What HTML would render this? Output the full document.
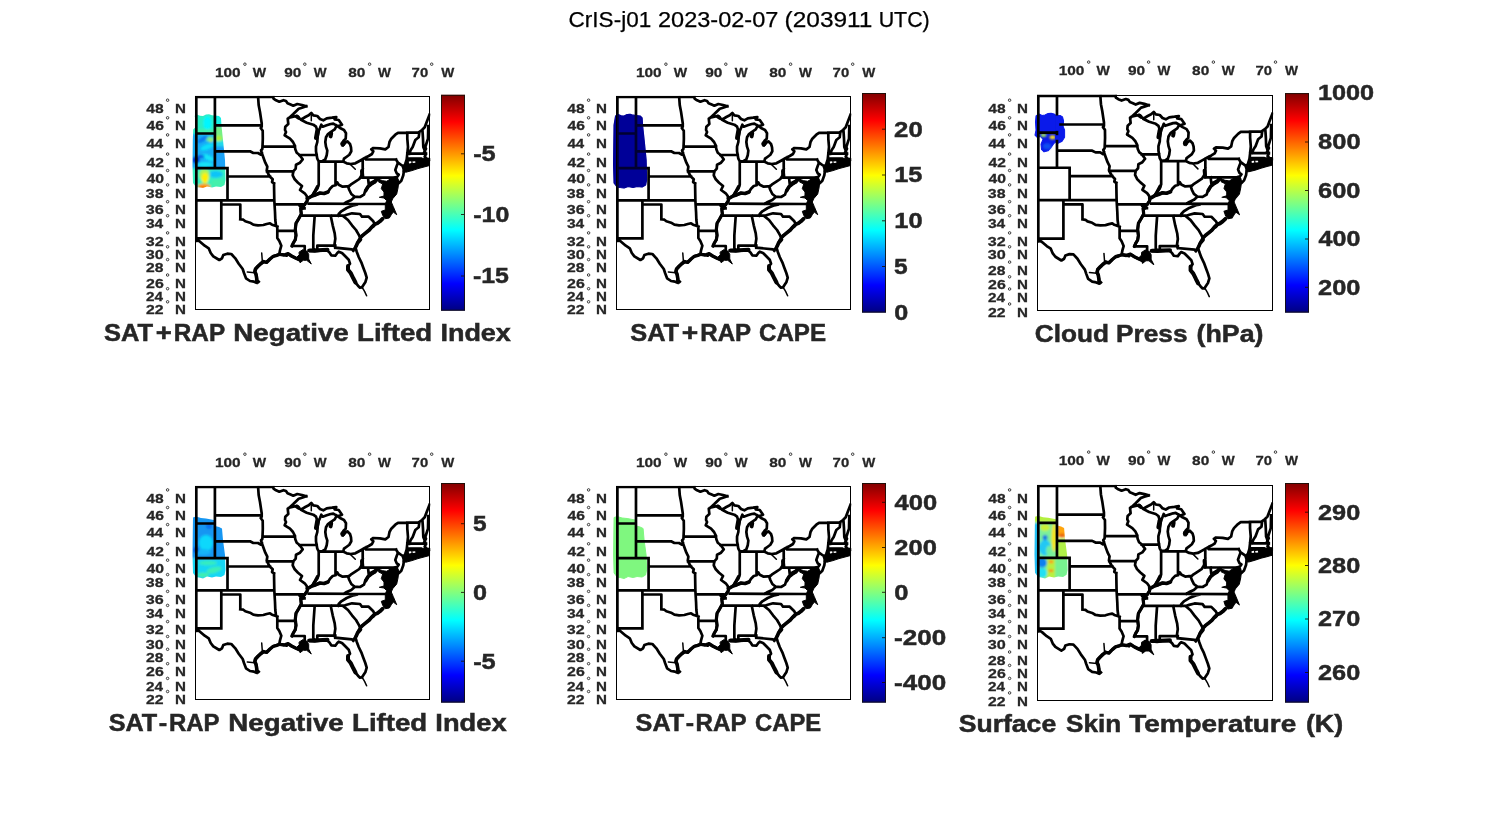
<!DOCTYPE html>
<html><head><meta charset="utf-8"><title>CrIS-j01 2023-02-07</title>
<style>html,body{margin:0;padding:0;background:#fff;overflow:hidden}svg{display:block;opacity:0.999}text{font-family:"Liberation Sans",sans-serif;white-space:pre}</style>
</head><body>
<svg width="1500" height="825" viewBox="0 0 1500 825">
<defs>
<linearGradient id="jet" x1="0" y1="0" x2="0" y2="1"><stop offset="0" stop-color="#800000"/><stop offset="0.125" stop-color="#ff0000"/><stop offset="0.375" stop-color="#ffff00"/><stop offset="0.5" stop-color="#80ff80"/><stop offset="0.625" stop-color="#00ffff"/><stop offset="0.875" stop-color="#0000ff"/><stop offset="1" stop-color="#000080"/></linearGradient>
<filter id="bl" x="-10%" y="-10%" width="120%" height="120%"><feGaussianBlur stdDeviation="0.9"/></filter>
<g id="map" fill="none" stroke="#000" stroke-linejoin="round" stroke-linecap="round">
<path d="M196.3 97 L273.3 97 M273.3 97 L273.5 98.7 L276 100.3 L279.3 101.7 L283.5 100.2 L286 101 L287.5 103.2 L290 104.2 L293.3 105.7 L297.3 104 L302 105 L306.3 106.3 M306.3 106.3 L302 107.7 L298.7 108.7 L293.3 114 L289.3 117.7 M196.3 97 L196.3 241 M214.9 97 L214.9 168.2 M214.9 125.4 L261.5 125.4 M196.3 133.5 L214.9 133.5 M258.1 97 L258.7 105.3 L260 112 L261 118.7 L261.7 123.3 L261.7 126.7 L260.7 128 L262.7 130.7 L262.8 138.7 L262.5 146.7 L262.3 149 L261 150.5 L261.7 152.7 M262.5 146.7 L295 146.7 M214.9 151.3 L250 151.3 L253.3 153 L258 153 L260.7 154.7 L261.7 152.7 M261.7 152.7 L263.3 157.3 L265.3 162.7 L267.3 166.7 L266.7 170.7 L268.3 174 L270 176.7 L272.7 179.3 L272 182 L274 183.3 M196.3 168.2 L227.5 168.2 M227.5 168.2 L227.5 200.3 M227.5 176.5 L270 176.5 M267 171.3 L293.3 171.3 M274 183.3 L274.3 200.3 L275 212 L275.3 220 L276 225.5 M196.3 200.3 L274.3 200.3 M274.7 204.4 L303 204.4 L302 208.3 L304.5 208.3 M221.3 200.3 L221.3 238.3 M221.3 204.5 L240.3 204.5 L240.3 219.3 M240.3 219.3 L243.3 219.7 L245.3 221.3 L250 222.7 L253.3 224.7 L258 225.3 L263.3 225 L266.7 224 L270 223.3 L272 224.7 L276 226 L277.3 226.7 M277.3 226.7 L277.3 238 L279.3 241 L281.3 245.7 L280 250.3 L279.3 254.3 M277.3 230.8 L295.3 230.8 M196.3 238.3 L221.3 238.3 M196.7 239.7 L200 241.7 L204.7 245.7 L208.7 248.3 L210.7 253 L213.3 256.3 L219.3 260 L222 258.3 L223.3 255 L227.3 253.7 L231.3 254 L235.3 258.3 L238.7 263.7 L242.7 269 L244 273 L246 278.3 L250 281 L254 281.7 L257.3 283 L258.7 281.7 M257.3 282.3 L256.7 278.3 L256 274.3 L254.7 271.7 L255.3 269 L258 266.3 L260.7 263.7 L263.3 261.7 L266.7 262.3 L270 259 L273.3 256.3 L276.7 255.3 L279.3 254.3 L283.3 254.7 L286.7 255.7 L288 253.7 L292 256.3 L296 258.3 L299.3 259.7 M289.3 117.7 L287.7 118.7 L288.3 124 L285.3 126.7 L285 130 L286 132 L284.7 135.3 L290 138.7 L293 142 L294.7 145.3 L295.3 149.3 L296.7 152.7 L299.3 154.7 L302.7 159.3 L300 162.7 L296 164.7 L295.7 168.7 L293.3 171.3 L292.7 175.3 L294.7 179.3 L298 182.7 L302 186 L300 190 L304.7 193.3 L306.7 196 L307.3 200.7 L304.7 204.7 L300.7 208.7 L301.3 214 L298.7 218.7 L296 223.3 L295.3 229.3 L296 235.3 L295.3 239.7 L293.3 243 L292 246 M292 246 L304.7 246 L304.7 250 M299.3 155 L316.7 155 M318 133.3 L317.6 137 L317.3 142 L316 146.7 L316 151.3 L316.7 155.3 L317.3 158.7 L318.7 161.3 L322.7 161 L325.3 159.3 L326.7 155.3 L327.3 150.7 L326 146.7 L325.3 142 L326 137.3 L328 134 L330.7 132 L334.7 129.3 L336.7 125.7 M318.7 161.7 L318.7 184.7 L317.3 188.7 L314.7 192 L312.7 195.3 M319 161.7 L343.3 161.7 M335.5 161.7 L335.5 185 M307.3 198.7 L312 196 L316 194.7 L320 193 L324 193.5 L328 192 L330 188.7 L332.7 186 L335.5 185.3 L337.3 182.5 L338.7 184.7 L342.7 186.7 L346.7 186.3 L348.5 186.8 L350.7 184.7 L355.3 181.7 L359.3 179 L361.5 175.5 L362.2 171.3 L362.7 169 M348 186.3 L349.3 190 L351.3 194 L354.7 196.7 M354.7 196.7 L360 197 L364 194.7 L365.3 190.7 L368 186.7 L371.3 184 L374.7 182 L377.3 178.7 M354.7 197 L351.3 200 L346.7 202 L344 203.7 M308.7 203.7 L386.7 204 M356.7 204.7 L353.3 205.3 L346.7 208 L341.3 211.3 L338.7 214 L338 215.7 M301.3 215.7 L344 215.7 M314.7 215.7 L314 225.3 L313.3 235.3 L313.3 248 L314.5 250.5 M330.7 215.7 L332.7 225.3 L334.7 233.3 L335.3 238.7 L334.3 245.7 L335.3 247.7 M317.3 250.7 L317.3 245.7 L335.3 245.7 M335.3 247.7 L352 249.3 L353.3 251 L354 249 L355.3 247 M344 215.7 L346.7 214.7 L352 213.3 L360 214 L362 216.7 L368.7 216.7 L373.3 221.3 L374.7 224 M344 216.7 L348 220 L352 225.3 L356 230 L358.7 234.7 L360 237.3 M382.7 218.7 L380 221.3 L377.3 223.3 L374.7 224.3 L372 226.7 L369.3 230 L366 232.7 L362.7 235.3 L360 238 L358 241.3 L356.7 245.3 L355.3 247 L356.7 251.7 L358.7 257 L361.3 262.3 L363.3 267.7 L365.3 273 L366.7 277.7 L365.3 282.3 L363.3 285.3 L362 287.3 M308.7 250.7 L314.7 251.3 L320 250.7 L326.7 250.3 L329.3 252.3 L331.3 255.3 L335.3 255.7 L337.3 253 L338.7 251.7 L342 253 L345.3 256.3 L348.7 259.7 L350 263.7 L348 266.3 L348 269.7 L350.7 273 L353.3 278.3 L355.3 282.3 L358 285.7 L360 287.7 L362 287.3 M362.7 159.5 L362.7 177.7 M362.7 177.7 L393.3 177.7 M366.5 157.5 L366 159.5 L396 159.5 M396 159.5 L398 162.7 L396.7 166 L395.3 170 L396.7 173.3 L398.7 174.7 L397.3 176.7 L393.3 178 M343.3 161.7 L346.7 163.3 L350.7 164 L355.3 163.3 L360 160.7 L364.7 158 L368.7 156 L372 154 L373.3 151.3 L371.3 149.3 L373.3 148 L380 148.3 L385.3 149.3 L388.5 147 L389.5 142 L391.3 138.7 L395.3 134.7 L398 132.8 L418.7 132.3 M336.7 125.7 L340 128 L344 130 L346 133.3 L345.7 138.7 L343.5 140.7 L342.3 143.5 L344.7 143 L347.3 141.3 L350 144 L351 147.3 L351.3 151.3 L349.3 154.7 L346.7 156.7 L344 158.7 L343.3 161.3 M289.3 117.7 L293.3 116.7 L297.3 116 L299 118.5 L301.3 119.3 M301.3 119.3 L305.3 117 L308.7 115.3 L311.3 113 L313.3 115.3 L317.3 116 L320 119 L323.3 120.3 L326.7 118.3 L332 117.7 L336.3 117 L334.7 119.3 L338.7 120 L342 124.7 L338.7 126 L336.7 125.7 M301.3 120 L306.7 122.7 L313.3 124.7 L316 126.7 L317.3 130.7 L318 133.3 M336.7 125.7 L333.3 123.7 L330.7 124 L326.7 125.3 L322.7 126.7 L321.3 124.7 L320 128 L318.7 131 L318 133.3 M407.3 132.5 L407.3 138.7 L408 147 L407.3 154 L406.7 159.3 L405.3 164 L403.3 166.7 M419.3 132.7 L418.7 137.3 L415.3 140 L412.7 147 L410.7 150 L409.3 153.7 M418.7 132.3 L422 130 L424.7 127.3 L426.7 122 L429.5 114.7 M422.5 131 L423 138.7 L423.3 147 L424 148.7 L425.3 152.7 M428.3 126 L428 138.7 L425.3 147 L426 148.7 L424 152.7 L426 154 L424.7 156.7 L426.7 158.7 L429.3 159.3 M407.3 153.7 L426 153.7 M407.3 158.7 L421.3 158.7 L421.3 162 M404.3 165.6 L408 163.4 L413 162.3 L418 161.6 L421.3 161.4 L425 160.6 L429.5 159.8 M398 162.7 L402.7 166 M402.7 166 L404 170 L403.3 175.3 L401.3 180.7 L398.7 183.3 L397.3 180.7 L396.7 178 M368 177.7 L368.7 184 L374.7 180.7 L377.3 178.7" stroke-width="2.7" stroke-linecap="square"/>
<path d="M247.3 272 L254.5 272.7 M261.7 253 L262.3 260.8 M362 287.3 L363.4 289.4 L364.7 291.6 L366.6 295.8 M350.7 164.7 L355.3 169.3 M311.3 115.3 L311.3 120.7" stroke-width="1.5"/>
<path d="M377.3 178.7 L382.7 180.7 L386.7 181.3 L390.7 178.7 L394.7 176.7 L398 178.7 L398.7 182.7 L398 188 L396.7 194 L392.7 198.7 L391.3 202 L393.3 206.7 L396.7 214.7 L393.3 212 L391.3 214.7 L389.3 218 L385.3 218.7 L382.7 215.3 L381.3 211.3 L385.3 210 L385.3 204 L386.7 200.7 L384 198 L379.3 197.3 L384 196 L384 192 L381.3 188.7 L382.7 184 L378.7 182Z M299.3 252 L302.7 249.7 L306.7 251 L308.7 254.3 L308.7 259 L311.3 264 L306.7 260.3 L303.3 260.3 L300 262.7 L299.3 259.7 L296 258 L299 255Z M404 166.5 L405.6 162 L407.5 158.4 L429.6 158.4 L429.6 165.5 L424 167 L418 168.6 L412 170.6 L406 172.2 L403.2 171.6Z M341.3 142.2 L343 141 L344.6 142.4 L345.2 144.4 L343.6 146.4 L341.6 146.2 L340.8 144.2Z" fill="#000" stroke-width="1.0"/>
<path d="M408.8 161.6 L411.2 161.2 L411.4 163 L409 163.4Z M412.4 161.4 L415.2 161.2 L415.4 162.8 L412.8 163Z" fill="#fff" stroke="none"/>
<path d="M348 266 L348 269.7 L350.7 273 L353.3 278.3 L355.5 282.5" stroke-width="4.0"/>
<path d="M360.5 239.5 L357.5 243 L356 246.5" stroke-width="3.6"/>
<path d="M374 225 L371.5 227.3 L369.3 230 L366 232.7 L362.7 235.3 L360.5 237.6" stroke-width="3.6"/>
<path d="M300 205.5 L302.5 208" stroke-width="3.8"/>
<path d="M309.5 250.4 L318 250.2 L327.5 249.8" stroke-width="4.0"/>
<path d="M263.3 261.7 L266.7 262.3 L270 259 L273.3 256.3 L276.7 255.3 L279.3 254.3" stroke-width="3.4"/>
<path d="M256.8 282 L256.7 278.3 L256 274.3 L254.9 271.7 L255.5 269 L258 266.3 L260.7 263.7 L263.3 261.7" stroke-width="3.6"/>
<path d="M307.3 198.7 L312 196 L316 194.7 L320 193 L324 193.5 L328 192" stroke-width="3.6"/>
<path d="M307.3 200.7 L304.7 204.7 L300.7 208.7 L301.3 214 L298.7 218.7 L296 223.3 L295.3 229.3 L296 235.3 L295.3 239.7 L293.3 243 L292 246" stroke-width="3.2"/>
<path d="M280 254.3 L284 255 L288 253.7 L292 256.3 L296 258.3 L299.3 259.7" stroke-width="3.4"/>
<path d="M317.6 131 L316.4 137.6" stroke-width="4.8"/>
<path d="M331.2 133.2 L330.6 136.4" stroke-width="4.0"/>
<path d="M296.6 116.4 L298.4 117.6" stroke-width="3.8"/>
<path d="M317.6 186.5 L314.7 192 L312.7 195.3" stroke-width="3.4"/>
<path d="M361.9 171 L362.5 177" stroke-width="3.8"/>
<path d="M382.7 218.7 L380 221.3 L377.3 223.3 L374.7 224.3 L372.7 226.5" stroke-width="3.8"/>
<path d="M365.6 190.7 L368 186.7 L371.3 184 L374.7 182 L377.3 178.9" stroke-width="3.6"/>
</g>
<g id="lon">
<text x="214.90" y="76.8" font-size="12.6" font-weight="bold" fill="#262626" stroke="#262626" stroke-width="0.26" textLength="25.75" lengthAdjust="spacingAndGlyphs">100</text>
<text x="252.72" y="76.8" font-size="12.6" font-weight="bold" fill="#262626" stroke="#262626" stroke-width="0.26" textLength="13.36" lengthAdjust="spacingAndGlyphs">W</text>
<circle cx="244.9" cy="64.2" r="1.25" fill="none" stroke="#262626" stroke-width="0.9"/>
<text x="284.15" y="76.8" font-size="12.6" font-weight="bold" fill="#262626" stroke="#262626" stroke-width="0.26" textLength="17.17" lengthAdjust="spacingAndGlyphs">90</text>
<text x="313.80" y="76.8" font-size="12.6" font-weight="bold" fill="#262626" stroke="#262626" stroke-width="0.26" textLength="12.83" lengthAdjust="spacingAndGlyphs">W</text>
<circle cx="304.8" cy="64.2" r="1.25" fill="none" stroke="#262626" stroke-width="0.9"/>
<text x="348.25" y="76.8" font-size="12.6" font-weight="bold" fill="#262626" stroke="#262626" stroke-width="0.26" textLength="17.19" lengthAdjust="spacingAndGlyphs">80</text>
<text x="377.90" y="76.8" font-size="12.6" font-weight="bold" fill="#262626" stroke="#262626" stroke-width="0.26" textLength="12.93" lengthAdjust="spacingAndGlyphs">W</text>
<circle cx="369.6" cy="64.2" r="1.25" fill="none" stroke="#262626" stroke-width="0.9"/>
<text x="411.63" y="76.8" font-size="12.6" font-weight="bold" fill="#262626" stroke="#262626" stroke-width="0.26" textLength="16.56" lengthAdjust="spacingAndGlyphs">70</text>
<text x="441.16" y="76.8" font-size="12.6" font-weight="bold" fill="#262626" stroke="#262626" stroke-width="0.26" textLength="12.99" lengthAdjust="spacingAndGlyphs">W</text>
<circle cx="431.7" cy="64.2" r="1.25" fill="none" stroke="#262626" stroke-width="0.9"/>
</g>
</defs>
<rect width="1500" height="825" fill="#fff"/>
<text x="568.62" y="26.9" font-size="21.5" fill="#000" stroke="#000" stroke-width="0.25" textLength="82.57" lengthAdjust="spacingAndGlyphs">CrIS-j01</text>
<text x="658.00" y="26.9" font-size="21.5" fill="#000" stroke="#000" stroke-width="0.25" textLength="120.29" lengthAdjust="spacingAndGlyphs">2023-02-07</text>
<text x="784.63" y="26.9" font-size="21.5" fill="#000" stroke="#000" stroke-width="0.25" textLength="87.82" lengthAdjust="spacingAndGlyphs">(203911</text>
<text x="878.64" y="26.9" font-size="21.5" fill="#000" stroke="#000" stroke-width="0.25" textLength="51.14" lengthAdjust="spacingAndGlyphs">UTC)</text>
<g>
<text x="146.32" y="112.8" font-size="12.3" font-weight="bold" fill="#262626" stroke="#262626" stroke-width="0.26" textLength="17.37" lengthAdjust="spacingAndGlyphs">48</text>
<text x="174.99" y="112.8" font-size="12.3" font-weight="bold" fill="#262626" stroke="#262626" stroke-width="0.26" textLength="10.96" lengthAdjust="spacingAndGlyphs">N</text>
<circle cx="167.6" cy="100.2" r="1.25" fill="none" stroke="#262626" stroke-width="0.9"/>
<text x="146.48" y="130.4" font-size="12.3" font-weight="bold" fill="#262626" stroke="#262626" stroke-width="0.26" textLength="17.47" lengthAdjust="spacingAndGlyphs">46</text>
<text x="174.99" y="130.4" font-size="12.3" font-weight="bold" fill="#262626" stroke="#262626" stroke-width="0.26" textLength="10.96" lengthAdjust="spacingAndGlyphs">N</text>
<circle cx="167.6" cy="117.8" r="1.25" fill="none" stroke="#262626" stroke-width="0.9"/>
<text x="146.47" y="147.5" font-size="12.3" font-weight="bold" fill="#262626" stroke="#262626" stroke-width="0.26" textLength="16.77" lengthAdjust="spacingAndGlyphs">44</text>
<text x="174.99" y="147.5" font-size="12.3" font-weight="bold" fill="#262626" stroke="#262626" stroke-width="0.26" textLength="10.96" lengthAdjust="spacingAndGlyphs">N</text>
<circle cx="167.6" cy="134.9" r="1.25" fill="none" stroke="#262626" stroke-width="0.9"/>
<text x="146.47" y="166.7" font-size="12.3" font-weight="bold" fill="#262626" stroke="#262626" stroke-width="0.26" textLength="17.35" lengthAdjust="spacingAndGlyphs">42</text>
<text x="174.99" y="166.7" font-size="12.3" font-weight="bold" fill="#262626" stroke="#262626" stroke-width="0.26" textLength="10.96" lengthAdjust="spacingAndGlyphs">N</text>
<circle cx="167.6" cy="154.1" r="1.25" fill="none" stroke="#262626" stroke-width="0.9"/>
<text x="146.47" y="183.1" font-size="12.3" font-weight="bold" fill="#262626" stroke="#262626" stroke-width="0.26" textLength="17.54" lengthAdjust="spacingAndGlyphs">40</text>
<text x="174.99" y="183.1" font-size="12.3" font-weight="bold" fill="#262626" stroke="#262626" stroke-width="0.26" textLength="10.96" lengthAdjust="spacingAndGlyphs">N</text>
<circle cx="167.6" cy="170.5" r="1.25" fill="none" stroke="#262626" stroke-width="0.9"/>
<text x="145.86" y="197.5" font-size="12.3" font-weight="bold" fill="#262626" stroke="#262626" stroke-width="0.26" textLength="17.77" lengthAdjust="spacingAndGlyphs">38</text>
<text x="174.99" y="197.5" font-size="12.3" font-weight="bold" fill="#262626" stroke="#262626" stroke-width="0.26" textLength="10.96" lengthAdjust="spacingAndGlyphs">N</text>
<circle cx="167.6" cy="184.9" r="1.25" fill="none" stroke="#262626" stroke-width="0.9"/>
<text x="145.82" y="214.3" font-size="12.3" font-weight="bold" fill="#262626" stroke="#262626" stroke-width="0.26" textLength="17.94" lengthAdjust="spacingAndGlyphs">36</text>
<text x="174.99" y="214.3" font-size="12.3" font-weight="bold" fill="#262626" stroke="#262626" stroke-width="0.26" textLength="10.96" lengthAdjust="spacingAndGlyphs">N</text>
<circle cx="167.6" cy="201.7" r="1.25" fill="none" stroke="#262626" stroke-width="0.9"/>
<text x="145.90" y="228.3" font-size="12.3" font-weight="bold" fill="#262626" stroke="#262626" stroke-width="0.26" textLength="17.30" lengthAdjust="spacingAndGlyphs">34</text>
<text x="174.99" y="228.3" font-size="12.3" font-weight="bold" fill="#262626" stroke="#262626" stroke-width="0.26" textLength="10.96" lengthAdjust="spacingAndGlyphs">N</text>
<circle cx="167.6" cy="215.7" r="1.25" fill="none" stroke="#262626" stroke-width="0.9"/>
<text x="145.82" y="245.5" font-size="12.3" font-weight="bold" fill="#262626" stroke="#262626" stroke-width="0.26" textLength="17.91" lengthAdjust="spacingAndGlyphs">32</text>
<text x="174.99" y="245.5" font-size="12.3" font-weight="bold" fill="#262626" stroke="#262626" stroke-width="0.26" textLength="10.96" lengthAdjust="spacingAndGlyphs">N</text>
<circle cx="167.6" cy="232.9" r="1.25" fill="none" stroke="#262626" stroke-width="0.9"/>
<text x="145.82" y="259.4" font-size="12.3" font-weight="bold" fill="#262626" stroke="#262626" stroke-width="0.26" textLength="18.03" lengthAdjust="spacingAndGlyphs">30</text>
<text x="174.99" y="259.4" font-size="12.3" font-weight="bold" fill="#262626" stroke="#262626" stroke-width="0.26" textLength="10.96" lengthAdjust="spacingAndGlyphs">N</text>
<circle cx="167.6" cy="246.8" r="1.25" fill="none" stroke="#262626" stroke-width="0.9"/>
<text x="146.05" y="272.2" font-size="12.3" font-weight="bold" fill="#262626" stroke="#262626" stroke-width="0.26" textLength="17.45" lengthAdjust="spacingAndGlyphs">28</text>
<text x="174.99" y="272.2" font-size="12.3" font-weight="bold" fill="#262626" stroke="#262626" stroke-width="0.26" textLength="10.96" lengthAdjust="spacingAndGlyphs">N</text>
<circle cx="167.6" cy="259.6" r="1.25" fill="none" stroke="#262626" stroke-width="0.9"/>
<text x="146.05" y="287.6" font-size="12.3" font-weight="bold" fill="#262626" stroke="#262626" stroke-width="0.26" textLength="17.74" lengthAdjust="spacingAndGlyphs">26</text>
<text x="174.99" y="287.6" font-size="12.3" font-weight="bold" fill="#262626" stroke="#262626" stroke-width="0.26" textLength="10.96" lengthAdjust="spacingAndGlyphs">N</text>
<circle cx="167.6" cy="275" r="1.25" fill="none" stroke="#262626" stroke-width="0.9"/>
<text x="146.10" y="301.3" font-size="12.3" font-weight="bold" fill="#262626" stroke="#262626" stroke-width="0.26" textLength="16.97" lengthAdjust="spacingAndGlyphs">24</text>
<text x="174.99" y="301.3" font-size="12.3" font-weight="bold" fill="#262626" stroke="#262626" stroke-width="0.26" textLength="10.96" lengthAdjust="spacingAndGlyphs">N</text>
<circle cx="167.6" cy="288.7" r="1.25" fill="none" stroke="#262626" stroke-width="0.9"/>
<text x="146.05" y="314.4" font-size="12.3" font-weight="bold" fill="#262626" stroke="#262626" stroke-width="0.26" textLength="17.57" lengthAdjust="spacingAndGlyphs">22</text>
<text x="174.99" y="314.4" font-size="12.3" font-weight="bold" fill="#262626" stroke="#262626" stroke-width="0.26" textLength="10.96" lengthAdjust="spacingAndGlyphs">N</text>
<circle cx="167.6" cy="301.8" r="1.25" fill="none" stroke="#262626" stroke-width="0.9"/>
<use href="#lon" x="0" y="0"/>
<clipPath id="bx1"><rect x="194.6" y="95.7" width="235.7" height="214.4"/></clipPath>
<g transform="translate(195.1 96.4) scale(1.00000 1.00000) translate(-195.1 -96.4)"><clipPath id="c1"><path d="M194.5 116 L197 114.5 L200 115.8 L203 116 L206 114.6 L209 114.3 L212 115.2 L215 115.5 L219 116 L221 118 L221.5 126 L223 140 L225 160 L225.5 180 L224.5 185 L221 187 L216 186.5 L212 187.5 L207 186.5 L203 188 L199 187.5 L196 187 L193 183 L192.5 165 L192.8 140 L193.2 129.5 L195.2 127.5 L195.2 117Z"/></clipPath>
<g clip-path="url(#c1)"><g filter="url(#bl)">
<rect x="188" y="110" width="44" height="84" fill="#2ceec4"/>
<ellipse cx="207.5" cy="123" rx="4.2" ry="7" fill="#04f6ff"/>
<rect x="196" y="129.5" width="19" height="3.5" fill="#44f0a4"/>
<rect x="215" y="112" width="12" height="13.5" fill="#14f0e4"/>
<rect x="215" y="126.5" width="12" height="14" fill="#74f084"/>
<ellipse cx="218.5" cy="138.5" rx="2.8" ry="3" fill="#b4f230"/>
<rect x="215" y="142" width="12" height="27" fill="#1aa2f6"/>
<rect x="215" y="141.5" width="12" height="5" fill="#22d8ec"/>
<rect x="188" y="134" width="27" height="34.5" fill="#12acf6"/>
<ellipse cx="210" cy="139" rx="4" ry="2.6" fill="#6cf094"/>
<ellipse cx="211" cy="140.5" rx="1.8" ry="1.4" fill="#b0f040"/>
<ellipse cx="202.5" cy="139.5" rx="6" ry="2" fill="#0c78ee" transform="rotate(-32 202.5 139.5)"/>
<ellipse cx="207" cy="147" rx="7" ry="2.6" fill="#10e0fa" transform="rotate(-20 207 147)"/>
<ellipse cx="208" cy="157.5" rx="6.5" ry="2.6" fill="#12e6f8" transform="rotate(25 208 157.5)"/>
<ellipse cx="205" cy="164.5" rx="8" ry="2.4" fill="#18e4f4"/>
<ellipse cx="196" cy="160" rx="3.6" ry="3.4" fill="#0420cc"/>
<ellipse cx="201" cy="156.5" rx="3.5" ry="1.3" fill="#0a48dc"/>
<rect x="188" y="168.6" width="44" height="24" fill="#34f0c0"/>
<ellipse cx="215.5" cy="174.3" rx="7.5" ry="3.6" fill="#10c4f8"/>
<ellipse cx="218" cy="183" rx="8" ry="4" fill="#44f0ac"/>
<ellipse cx="204.5" cy="175" rx="5.2" ry="6.5" fill="#a8f458"/>
<ellipse cx="205" cy="178.2" rx="3.5" ry="5.4" fill="#fff000"/>
<ellipse cx="204" cy="186.6" rx="6.6" ry="2.8" fill="#ff9a08"/>
<ellipse cx="202.5" cy="187.2" rx="3" ry="1.5" fill="#ff7800"/>
</g></g></g>
<g clip-path="url(#bx1)"><use href="#map" transform="translate(195.1 96.4) scale(1.00000 1.00000) translate(-195.1 -96.4)"/></g>
<rect x="195.5" y="96.5" width="234" height="213" fill="none" stroke="#000" stroke-width="1"/>
<rect x="441" y="94.8" width="24" height="215.9" fill="url(#jet)"/>
<rect x="441.5" y="95.3" width="23" height="214.9" fill="none" stroke="#141008" stroke-opacity="0.88" stroke-width="1"/>
<path d="M461 153.8 h3.2" stroke="#1a0c04" stroke-opacity="0.85" stroke-width="1"/>
<text x="473.17" y="161.2" font-size="21.5" font-weight="bold" fill="#262626" stroke="#262626" stroke-width="0.45" textLength="22.55" lengthAdjust="spacingAndGlyphs">-5</text>
<path d="M461 214.5 h3.2" stroke="#1a0c04" stroke-opacity="0.85" stroke-width="1"/>
<text x="473.18" y="221.9" font-size="21.5" font-weight="bold" fill="#262626" stroke="#262626" stroke-width="0.45" textLength="36.10" lengthAdjust="spacingAndGlyphs">-10</text>
<path d="M461 276 h3.2" stroke="#1a0c04" stroke-opacity="0.85" stroke-width="1"/>
<text x="472.94" y="283.4" font-size="21.5" font-weight="bold" fill="#262626" stroke="#262626" stroke-width="0.45" textLength="35.98" lengthAdjust="spacingAndGlyphs">-15</text>
<text x="104.13" y="340.8" font-size="24" font-weight="bold" fill="#262626" stroke="#262626" stroke-width="0.5" textLength="49.01" lengthAdjust="spacingAndGlyphs">SAT</text>
<text x="155.77" y="340.8" font-size="24" font-weight="bold" fill="#262626" stroke="#262626" stroke-width="0.5" textLength="16.05" lengthAdjust="spacingAndGlyphs">+</text>
<text x="173.82" y="340.8" font-size="24" font-weight="bold" fill="#262626" stroke="#262626" stroke-width="0.5" textLength="51.30" lengthAdjust="spacingAndGlyphs">RAP</text>
<text x="233.35" y="340.8" font-size="24" font-weight="bold" fill="#262626" stroke="#262626" stroke-width="0.5" textLength="115.39" lengthAdjust="spacingAndGlyphs">Negative</text>
<text x="357.02" y="340.8" font-size="24" font-weight="bold" fill="#262626" stroke="#262626" stroke-width="0.5" textLength="75.19" lengthAdjust="spacingAndGlyphs">Lifted</text>
<text x="440.43" y="340.8" font-size="24" font-weight="bold" fill="#262626" stroke="#262626" stroke-width="0.5" textLength="70.46" lengthAdjust="spacingAndGlyphs">Index</text>
</g>
<g>
<text x="567.32" y="112.8" font-size="12.3" font-weight="bold" fill="#262626" stroke="#262626" stroke-width="0.26" textLength="17.37" lengthAdjust="spacingAndGlyphs">48</text>
<text x="595.99" y="112.8" font-size="12.3" font-weight="bold" fill="#262626" stroke="#262626" stroke-width="0.26" textLength="10.96" lengthAdjust="spacingAndGlyphs">N</text>
<circle cx="588.6" cy="100.2" r="1.25" fill="none" stroke="#262626" stroke-width="0.9"/>
<text x="567.48" y="130.4" font-size="12.3" font-weight="bold" fill="#262626" stroke="#262626" stroke-width="0.26" textLength="17.47" lengthAdjust="spacingAndGlyphs">46</text>
<text x="595.99" y="130.4" font-size="12.3" font-weight="bold" fill="#262626" stroke="#262626" stroke-width="0.26" textLength="10.96" lengthAdjust="spacingAndGlyphs">N</text>
<circle cx="588.6" cy="117.8" r="1.25" fill="none" stroke="#262626" stroke-width="0.9"/>
<text x="567.47" y="147.5" font-size="12.3" font-weight="bold" fill="#262626" stroke="#262626" stroke-width="0.26" textLength="16.77" lengthAdjust="spacingAndGlyphs">44</text>
<text x="595.99" y="147.5" font-size="12.3" font-weight="bold" fill="#262626" stroke="#262626" stroke-width="0.26" textLength="10.96" lengthAdjust="spacingAndGlyphs">N</text>
<circle cx="588.6" cy="134.9" r="1.25" fill="none" stroke="#262626" stroke-width="0.9"/>
<text x="567.47" y="166.7" font-size="12.3" font-weight="bold" fill="#262626" stroke="#262626" stroke-width="0.26" textLength="17.35" lengthAdjust="spacingAndGlyphs">42</text>
<text x="595.99" y="166.7" font-size="12.3" font-weight="bold" fill="#262626" stroke="#262626" stroke-width="0.26" textLength="10.96" lengthAdjust="spacingAndGlyphs">N</text>
<circle cx="588.6" cy="154.1" r="1.25" fill="none" stroke="#262626" stroke-width="0.9"/>
<text x="567.47" y="183.1" font-size="12.3" font-weight="bold" fill="#262626" stroke="#262626" stroke-width="0.26" textLength="17.54" lengthAdjust="spacingAndGlyphs">40</text>
<text x="595.99" y="183.1" font-size="12.3" font-weight="bold" fill="#262626" stroke="#262626" stroke-width="0.26" textLength="10.96" lengthAdjust="spacingAndGlyphs">N</text>
<circle cx="588.6" cy="170.5" r="1.25" fill="none" stroke="#262626" stroke-width="0.9"/>
<text x="566.86" y="197.5" font-size="12.3" font-weight="bold" fill="#262626" stroke="#262626" stroke-width="0.26" textLength="17.77" lengthAdjust="spacingAndGlyphs">38</text>
<text x="595.99" y="197.5" font-size="12.3" font-weight="bold" fill="#262626" stroke="#262626" stroke-width="0.26" textLength="10.96" lengthAdjust="spacingAndGlyphs">N</text>
<circle cx="588.6" cy="184.9" r="1.25" fill="none" stroke="#262626" stroke-width="0.9"/>
<text x="566.82" y="214.3" font-size="12.3" font-weight="bold" fill="#262626" stroke="#262626" stroke-width="0.26" textLength="17.94" lengthAdjust="spacingAndGlyphs">36</text>
<text x="595.99" y="214.3" font-size="12.3" font-weight="bold" fill="#262626" stroke="#262626" stroke-width="0.26" textLength="10.96" lengthAdjust="spacingAndGlyphs">N</text>
<circle cx="588.6" cy="201.7" r="1.25" fill="none" stroke="#262626" stroke-width="0.9"/>
<text x="566.90" y="228.3" font-size="12.3" font-weight="bold" fill="#262626" stroke="#262626" stroke-width="0.26" textLength="17.30" lengthAdjust="spacingAndGlyphs">34</text>
<text x="595.99" y="228.3" font-size="12.3" font-weight="bold" fill="#262626" stroke="#262626" stroke-width="0.26" textLength="10.96" lengthAdjust="spacingAndGlyphs">N</text>
<circle cx="588.6" cy="215.7" r="1.25" fill="none" stroke="#262626" stroke-width="0.9"/>
<text x="566.82" y="245.5" font-size="12.3" font-weight="bold" fill="#262626" stroke="#262626" stroke-width="0.26" textLength="17.91" lengthAdjust="spacingAndGlyphs">32</text>
<text x="595.99" y="245.5" font-size="12.3" font-weight="bold" fill="#262626" stroke="#262626" stroke-width="0.26" textLength="10.96" lengthAdjust="spacingAndGlyphs">N</text>
<circle cx="588.6" cy="232.9" r="1.25" fill="none" stroke="#262626" stroke-width="0.9"/>
<text x="566.82" y="259.4" font-size="12.3" font-weight="bold" fill="#262626" stroke="#262626" stroke-width="0.26" textLength="18.03" lengthAdjust="spacingAndGlyphs">30</text>
<text x="595.99" y="259.4" font-size="12.3" font-weight="bold" fill="#262626" stroke="#262626" stroke-width="0.26" textLength="10.96" lengthAdjust="spacingAndGlyphs">N</text>
<circle cx="588.6" cy="246.8" r="1.25" fill="none" stroke="#262626" stroke-width="0.9"/>
<text x="567.05" y="272.2" font-size="12.3" font-weight="bold" fill="#262626" stroke="#262626" stroke-width="0.26" textLength="17.45" lengthAdjust="spacingAndGlyphs">28</text>
<text x="595.99" y="272.2" font-size="12.3" font-weight="bold" fill="#262626" stroke="#262626" stroke-width="0.26" textLength="10.96" lengthAdjust="spacingAndGlyphs">N</text>
<circle cx="588.6" cy="259.6" r="1.25" fill="none" stroke="#262626" stroke-width="0.9"/>
<text x="567.05" y="287.6" font-size="12.3" font-weight="bold" fill="#262626" stroke="#262626" stroke-width="0.26" textLength="17.74" lengthAdjust="spacingAndGlyphs">26</text>
<text x="595.99" y="287.6" font-size="12.3" font-weight="bold" fill="#262626" stroke="#262626" stroke-width="0.26" textLength="10.96" lengthAdjust="spacingAndGlyphs">N</text>
<circle cx="588.6" cy="275" r="1.25" fill="none" stroke="#262626" stroke-width="0.9"/>
<text x="567.10" y="301.3" font-size="12.3" font-weight="bold" fill="#262626" stroke="#262626" stroke-width="0.26" textLength="16.97" lengthAdjust="spacingAndGlyphs">24</text>
<text x="595.99" y="301.3" font-size="12.3" font-weight="bold" fill="#262626" stroke="#262626" stroke-width="0.26" textLength="10.96" lengthAdjust="spacingAndGlyphs">N</text>
<circle cx="588.6" cy="288.7" r="1.25" fill="none" stroke="#262626" stroke-width="0.9"/>
<text x="567.05" y="314.4" font-size="12.3" font-weight="bold" fill="#262626" stroke="#262626" stroke-width="0.26" textLength="17.57" lengthAdjust="spacingAndGlyphs">22</text>
<text x="595.99" y="314.4" font-size="12.3" font-weight="bold" fill="#262626" stroke="#262626" stroke-width="0.26" textLength="10.96" lengthAdjust="spacingAndGlyphs">N</text>
<circle cx="588.6" cy="301.8" r="1.25" fill="none" stroke="#262626" stroke-width="0.9"/>
<use href="#lon" x="421" y="0"/>
<clipPath id="bx2"><rect x="615.7" y="95.7" width="235.6" height="214.4"/></clipPath>
<g transform="translate(616.2 96.4) scale(0.99957 1.00000) translate(-195.1 -96.4)"><path d="M194.5 116 L197 114.5 L200 115.8 L203 116 L206 114.6 L209 114.3 L212 115.2 L215 115.5 L219 116 L221 118 L221.5 126 L223 140 L225 160 L225.5 180 L224.5 185 L221 187 L216 186.5 L212 187.5 L207 186.5 L203 188 L199 187.5 L196 187 L193 183 L192.5 165 L192.8 140 L193 125Z" fill="#000098" stroke="#000098" stroke-width="1.2" stroke-linejoin="round"/></g>
<g clip-path="url(#bx2)"><use href="#map" transform="translate(616.2 96.4) scale(0.99957 1.00000) translate(-195.1 -96.4)"/></g>
<g opacity="0.32"><g transform="translate(616.2 96.4) scale(0.99957 1.00000) translate(-195.1 -96.4)"><path d="M194.5 116 L197 114.5 L200 115.8 L203 116 L206 114.6 L209 114.3 L212 115.2 L215 115.5 L219 116 L221 118 L221.5 126 L223 140 L225 160 L225.5 180 L224.5 185 L221 187 L216 186.5 L212 187.5 L207 186.5 L203 188 L199 187.5 L196 187 L193 183 L192.5 165 L192.8 140 L193 125Z" fill="#000098" stroke="#000098" stroke-width="1.2" stroke-linejoin="round"/></g></g>
<rect x="616.5" y="96.5" width="234" height="213" fill="none" stroke="#000" stroke-width="1"/>
<rect x="862" y="93" width="24" height="219.6" fill="url(#jet)"/>
<rect x="862.5" y="93.5" width="23" height="218.6" fill="none" stroke="#141008" stroke-opacity="0.88" stroke-width="1"/>
<path d="M882 129.2 h3.2" stroke="#1a0c04" stroke-opacity="0.85" stroke-width="1"/>
<text x="894.09" y="136.6" font-size="21.5" font-weight="bold" fill="#262626" stroke="#262626" stroke-width="0.45" textLength="28.62" lengthAdjust="spacingAndGlyphs">20</text>
<path d="M882 175 h3.2" stroke="#1a0c04" stroke-opacity="0.85" stroke-width="1"/>
<text x="894.23" y="182.4" font-size="21.5" font-weight="bold" fill="#262626" stroke="#262626" stroke-width="0.45" textLength="28.15" lengthAdjust="spacingAndGlyphs">15</text>
<path d="M882 220.8 h3.2" stroke="#1a0c04" stroke-opacity="0.85" stroke-width="1"/>
<text x="894.39" y="228.2" font-size="21.5" font-weight="bold" fill="#262626" stroke="#262626" stroke-width="0.45" textLength="28.28" lengthAdjust="spacingAndGlyphs">10</text>
<path d="M882 266.5 h3.2" stroke="#1a0c04" stroke-opacity="0.85" stroke-width="1"/>
<text x="894.10" y="273.9" font-size="21.5" font-weight="bold" fill="#262626" stroke="#262626" stroke-width="0.45" textLength="13.64" lengthAdjust="spacingAndGlyphs">5</text>
<text x="894.27" y="319.6" font-size="21.5" font-weight="bold" fill="#262626" stroke="#262626" stroke-width="0.45" textLength="14.00" lengthAdjust="spacingAndGlyphs">0</text>
<text x="630.23" y="340.8" font-size="24" font-weight="bold" fill="#262626" stroke="#262626" stroke-width="0.5" textLength="48.85" lengthAdjust="spacingAndGlyphs">SAT</text>
<text x="681.70" y="340.8" font-size="24" font-weight="bold" fill="#262626" stroke="#262626" stroke-width="0.5" textLength="16.43" lengthAdjust="spacingAndGlyphs">+</text>
<text x="700.23" y="340.8" font-size="24" font-weight="bold" fill="#262626" stroke="#262626" stroke-width="0.5" textLength="50.89" lengthAdjust="spacingAndGlyphs">RAP</text>
<text x="759.01" y="340.8" font-size="24" font-weight="bold" fill="#262626" stroke="#262626" stroke-width="0.5" textLength="67.01" lengthAdjust="spacingAndGlyphs">CAPE</text>
</g>
<g>
<text x="988.32" y="112.8" font-size="12.3" font-weight="bold" fill="#262626" stroke="#262626" stroke-width="0.26" textLength="17.37" lengthAdjust="spacingAndGlyphs">48</text>
<text x="1016.99" y="112.8" font-size="12.3" font-weight="bold" fill="#262626" stroke="#262626" stroke-width="0.26" textLength="10.96" lengthAdjust="spacingAndGlyphs">N</text>
<circle cx="1009.6" cy="100.2" r="1.25" fill="none" stroke="#262626" stroke-width="0.9"/>
<text x="988.48" y="130.4" font-size="12.3" font-weight="bold" fill="#262626" stroke="#262626" stroke-width="0.26" textLength="17.47" lengthAdjust="spacingAndGlyphs">46</text>
<text x="1016.99" y="130.4" font-size="12.3" font-weight="bold" fill="#262626" stroke="#262626" stroke-width="0.26" textLength="10.96" lengthAdjust="spacingAndGlyphs">N</text>
<circle cx="1009.6" cy="117.8" r="1.25" fill="none" stroke="#262626" stroke-width="0.9"/>
<text x="988.47" y="147.5" font-size="12.3" font-weight="bold" fill="#262626" stroke="#262626" stroke-width="0.26" textLength="16.77" lengthAdjust="spacingAndGlyphs">44</text>
<text x="1016.99" y="147.5" font-size="12.3" font-weight="bold" fill="#262626" stroke="#262626" stroke-width="0.26" textLength="10.96" lengthAdjust="spacingAndGlyphs">N</text>
<circle cx="1009.6" cy="134.9" r="1.25" fill="none" stroke="#262626" stroke-width="0.9"/>
<text x="988.47" y="166.7" font-size="12.3" font-weight="bold" fill="#262626" stroke="#262626" stroke-width="0.26" textLength="17.35" lengthAdjust="spacingAndGlyphs">42</text>
<text x="1016.99" y="166.7" font-size="12.3" font-weight="bold" fill="#262626" stroke="#262626" stroke-width="0.26" textLength="10.96" lengthAdjust="spacingAndGlyphs">N</text>
<circle cx="1009.6" cy="154.1" r="1.25" fill="none" stroke="#262626" stroke-width="0.9"/>
<text x="988.47" y="183.1" font-size="12.3" font-weight="bold" fill="#262626" stroke="#262626" stroke-width="0.26" textLength="17.54" lengthAdjust="spacingAndGlyphs">40</text>
<text x="1016.99" y="183.1" font-size="12.3" font-weight="bold" fill="#262626" stroke="#262626" stroke-width="0.26" textLength="10.96" lengthAdjust="spacingAndGlyphs">N</text>
<circle cx="1009.6" cy="170.5" r="1.25" fill="none" stroke="#262626" stroke-width="0.9"/>
<text x="987.86" y="197.5" font-size="12.3" font-weight="bold" fill="#262626" stroke="#262626" stroke-width="0.26" textLength="17.77" lengthAdjust="spacingAndGlyphs">38</text>
<text x="1016.99" y="197.5" font-size="12.3" font-weight="bold" fill="#262626" stroke="#262626" stroke-width="0.26" textLength="10.96" lengthAdjust="spacingAndGlyphs">N</text>
<circle cx="1009.6" cy="184.9" r="1.25" fill="none" stroke="#262626" stroke-width="0.9"/>
<text x="987.82" y="214.3" font-size="12.3" font-weight="bold" fill="#262626" stroke="#262626" stroke-width="0.26" textLength="17.94" lengthAdjust="spacingAndGlyphs">36</text>
<text x="1016.99" y="214.3" font-size="12.3" font-weight="bold" fill="#262626" stroke="#262626" stroke-width="0.26" textLength="10.96" lengthAdjust="spacingAndGlyphs">N</text>
<circle cx="1009.6" cy="201.7" r="1.25" fill="none" stroke="#262626" stroke-width="0.9"/>
<text x="987.90" y="228.3" font-size="12.3" font-weight="bold" fill="#262626" stroke="#262626" stroke-width="0.26" textLength="17.30" lengthAdjust="spacingAndGlyphs">34</text>
<text x="1016.99" y="228.3" font-size="12.3" font-weight="bold" fill="#262626" stroke="#262626" stroke-width="0.26" textLength="10.96" lengthAdjust="spacingAndGlyphs">N</text>
<circle cx="1009.6" cy="215.7" r="1.25" fill="none" stroke="#262626" stroke-width="0.9"/>
<text x="987.82" y="245.5" font-size="12.3" font-weight="bold" fill="#262626" stroke="#262626" stroke-width="0.26" textLength="17.91" lengthAdjust="spacingAndGlyphs">32</text>
<text x="1016.99" y="245.5" font-size="12.3" font-weight="bold" fill="#262626" stroke="#262626" stroke-width="0.26" textLength="10.96" lengthAdjust="spacingAndGlyphs">N</text>
<circle cx="1009.6" cy="232.9" r="1.25" fill="none" stroke="#262626" stroke-width="0.9"/>
<text x="987.82" y="259.4" font-size="12.3" font-weight="bold" fill="#262626" stroke="#262626" stroke-width="0.26" textLength="18.03" lengthAdjust="spacingAndGlyphs">30</text>
<text x="1016.99" y="259.4" font-size="12.3" font-weight="bold" fill="#262626" stroke="#262626" stroke-width="0.26" textLength="10.96" lengthAdjust="spacingAndGlyphs">N</text>
<circle cx="1009.6" cy="246.8" r="1.25" fill="none" stroke="#262626" stroke-width="0.9"/>
<text x="988.05" y="274.7" font-size="12.3" font-weight="bold" fill="#262626" stroke="#262626" stroke-width="0.26" textLength="17.45" lengthAdjust="spacingAndGlyphs">28</text>
<text x="1016.99" y="274.7" font-size="12.3" font-weight="bold" fill="#262626" stroke="#262626" stroke-width="0.26" textLength="10.96" lengthAdjust="spacingAndGlyphs">N</text>
<circle cx="1009.6" cy="262.1" r="1.25" fill="none" stroke="#262626" stroke-width="0.9"/>
<text x="988.05" y="289.4" font-size="12.3" font-weight="bold" fill="#262626" stroke="#262626" stroke-width="0.26" textLength="17.74" lengthAdjust="spacingAndGlyphs">26</text>
<text x="1016.99" y="289.4" font-size="12.3" font-weight="bold" fill="#262626" stroke="#262626" stroke-width="0.26" textLength="10.96" lengthAdjust="spacingAndGlyphs">N</text>
<circle cx="1009.6" cy="276.8" r="1.25" fill="none" stroke="#262626" stroke-width="0.9"/>
<text x="988.10" y="301.6" font-size="12.3" font-weight="bold" fill="#262626" stroke="#262626" stroke-width="0.26" textLength="16.97" lengthAdjust="spacingAndGlyphs">24</text>
<text x="1016.99" y="301.6" font-size="12.3" font-weight="bold" fill="#262626" stroke="#262626" stroke-width="0.26" textLength="10.96" lengthAdjust="spacingAndGlyphs">N</text>
<circle cx="1009.6" cy="289" r="1.25" fill="none" stroke="#262626" stroke-width="0.9"/>
<text x="988.05" y="316.6" font-size="12.3" font-weight="bold" fill="#262626" stroke="#262626" stroke-width="0.26" textLength="17.57" lengthAdjust="spacingAndGlyphs">22</text>
<text x="1016.99" y="316.6" font-size="12.3" font-weight="bold" fill="#262626" stroke="#262626" stroke-width="0.26" textLength="10.96" lengthAdjust="spacingAndGlyphs">N</text>
<circle cx="1009.6" cy="304" r="1.25" fill="none" stroke="#262626" stroke-width="0.9"/>
<use href="#lon" x="843.8" y="-2.1"/>
<clipPath id="bx3"><rect x="1036.6" y="94.5" width="236.6" height="216.6"/></clipPath>
<g transform="translate(1037.1 95.2) scale(1.00383 1.01033) translate(-195.1 -96.4)"><path d="M194 117 L197 115 L200 116.5 L203 116 L206 114.5 L209 114.2 L212 115 L214.5 117 L218 116.5 L220.5 118 L221.5 122 L221 127 L222.5 131 L222.5 138 L220 142 L216 144 L214.5 142 L212 144 L209 148 L206 151.5 L202 152.5 L199.5 150 L199 145 L201 140 L198 137 L195.5 138.5 L193 136 L194 131 L193.5 123Z" fill="#0a1aea" stroke="#0a1aea" stroke-width="1" stroke-linejoin="round"/>
<g filter="url(#bl)"><ellipse cx="210.5" cy="138" rx="3" ry="2" fill="#ffe21a"/><ellipse cx="201.5" cy="136" rx="3" ry="1.7" fill="#a8f050"/><ellipse cx="205" cy="147" rx="4" ry="3" fill="#1050f0"/></g></g>
<g clip-path="url(#bx3)"><use href="#map" transform="translate(1037.1 95.2) scale(1.00383 1.01033) translate(-195.1 -96.4)"/></g>
<g transform="translate(1037.1 95.2) scale(1.00383 1.01033) translate(-195.1 -96.4)"><rect x="213" y="116.5" width="4.2" height="15.2" fill="#0a1aea"/><rect x="213" y="136" width="4.2" height="4.5" fill="#0a1aea"/></g>
<rect x="1037.5" y="95.5" width="235" height="215" fill="none" stroke="#000" stroke-width="1"/>
<rect x="1285" y="93.1" width="24" height="219.5" fill="url(#jet)"/>
<rect x="1285.5" y="93.6" width="23" height="218.5" fill="none" stroke="#141008" stroke-opacity="0.88" stroke-width="1"/>
<text x="1317.90" y="100.4" font-size="21.5" font-weight="bold" fill="#262626" stroke="#262626" stroke-width="0.45" textLength="56.19" lengthAdjust="spacingAndGlyphs">1000</text>
<path d="M1305 142 h3.2" stroke="#1a0c04" stroke-opacity="0.85" stroke-width="1"/>
<text x="1318.05" y="149.4" font-size="21.5" font-weight="bold" fill="#262626" stroke="#262626" stroke-width="0.45" textLength="42.50" lengthAdjust="spacingAndGlyphs">800</text>
<path d="M1305 190.5 h3.2" stroke="#1a0c04" stroke-opacity="0.85" stroke-width="1"/>
<text x="1317.99" y="197.9" font-size="21.5" font-weight="bold" fill="#262626" stroke="#262626" stroke-width="0.45" textLength="42.45" lengthAdjust="spacingAndGlyphs">600</text>
<path d="M1305 239 h3.2" stroke="#1a0c04" stroke-opacity="0.85" stroke-width="1"/>
<text x="1318.60" y="246.4" font-size="21.5" font-weight="bold" fill="#262626" stroke="#262626" stroke-width="0.45" textLength="41.81" lengthAdjust="spacingAndGlyphs">400</text>
<path d="M1305 287.3 h3.2" stroke="#1a0c04" stroke-opacity="0.85" stroke-width="1"/>
<text x="1318.04" y="294.7" font-size="21.5" font-weight="bold" fill="#262626" stroke="#262626" stroke-width="0.45" textLength="42.38" lengthAdjust="spacingAndGlyphs">200</text>
<text x="1034.82" y="341.7" font-size="24" font-weight="bold" fill="#262626" stroke="#262626" stroke-width="0.5" textLength="74.16" lengthAdjust="spacingAndGlyphs">Cloud</text>
<text x="1116.13" y="341.7" font-size="24" font-weight="bold" fill="#262626" stroke="#262626" stroke-width="0.5" textLength="71.36" lengthAdjust="spacingAndGlyphs">Press</text>
<text x="1196.60" y="341.7" font-size="24" font-weight="bold" fill="#262626" stroke="#262626" stroke-width="0.5" textLength="66.84" lengthAdjust="spacingAndGlyphs">(hPa)</text>
</g>
<g>
<text x="146.32" y="502.5" font-size="12.3" font-weight="bold" fill="#262626" stroke="#262626" stroke-width="0.26" textLength="17.37" lengthAdjust="spacingAndGlyphs">48</text>
<text x="174.99" y="502.5" font-size="12.3" font-weight="bold" fill="#262626" stroke="#262626" stroke-width="0.26" textLength="10.96" lengthAdjust="spacingAndGlyphs">N</text>
<circle cx="167.6" cy="489.9" r="1.25" fill="none" stroke="#262626" stroke-width="0.9"/>
<text x="146.48" y="520.1" font-size="12.3" font-weight="bold" fill="#262626" stroke="#262626" stroke-width="0.26" textLength="17.47" lengthAdjust="spacingAndGlyphs">46</text>
<text x="174.99" y="520.1" font-size="12.3" font-weight="bold" fill="#262626" stroke="#262626" stroke-width="0.26" textLength="10.96" lengthAdjust="spacingAndGlyphs">N</text>
<circle cx="167.6" cy="507.5" r="1.25" fill="none" stroke="#262626" stroke-width="0.9"/>
<text x="146.47" y="537.2" font-size="12.3" font-weight="bold" fill="#262626" stroke="#262626" stroke-width="0.26" textLength="16.77" lengthAdjust="spacingAndGlyphs">44</text>
<text x="174.99" y="537.2" font-size="12.3" font-weight="bold" fill="#262626" stroke="#262626" stroke-width="0.26" textLength="10.96" lengthAdjust="spacingAndGlyphs">N</text>
<circle cx="167.6" cy="524.6" r="1.25" fill="none" stroke="#262626" stroke-width="0.9"/>
<text x="146.47" y="556.4" font-size="12.3" font-weight="bold" fill="#262626" stroke="#262626" stroke-width="0.26" textLength="17.35" lengthAdjust="spacingAndGlyphs">42</text>
<text x="174.99" y="556.4" font-size="12.3" font-weight="bold" fill="#262626" stroke="#262626" stroke-width="0.26" textLength="10.96" lengthAdjust="spacingAndGlyphs">N</text>
<circle cx="167.6" cy="543.8" r="1.25" fill="none" stroke="#262626" stroke-width="0.9"/>
<text x="146.47" y="572.8" font-size="12.3" font-weight="bold" fill="#262626" stroke="#262626" stroke-width="0.26" textLength="17.54" lengthAdjust="spacingAndGlyphs">40</text>
<text x="174.99" y="572.8" font-size="12.3" font-weight="bold" fill="#262626" stroke="#262626" stroke-width="0.26" textLength="10.96" lengthAdjust="spacingAndGlyphs">N</text>
<circle cx="167.6" cy="560.2" r="1.25" fill="none" stroke="#262626" stroke-width="0.9"/>
<text x="145.86" y="587.2" font-size="12.3" font-weight="bold" fill="#262626" stroke="#262626" stroke-width="0.26" textLength="17.77" lengthAdjust="spacingAndGlyphs">38</text>
<text x="174.99" y="587.2" font-size="12.3" font-weight="bold" fill="#262626" stroke="#262626" stroke-width="0.26" textLength="10.96" lengthAdjust="spacingAndGlyphs">N</text>
<circle cx="167.6" cy="574.6" r="1.25" fill="none" stroke="#262626" stroke-width="0.9"/>
<text x="145.82" y="604" font-size="12.3" font-weight="bold" fill="#262626" stroke="#262626" stroke-width="0.26" textLength="17.94" lengthAdjust="spacingAndGlyphs">36</text>
<text x="174.99" y="604" font-size="12.3" font-weight="bold" fill="#262626" stroke="#262626" stroke-width="0.26" textLength="10.96" lengthAdjust="spacingAndGlyphs">N</text>
<circle cx="167.6" cy="591.4" r="1.25" fill="none" stroke="#262626" stroke-width="0.9"/>
<text x="145.90" y="618" font-size="12.3" font-weight="bold" fill="#262626" stroke="#262626" stroke-width="0.26" textLength="17.30" lengthAdjust="spacingAndGlyphs">34</text>
<text x="174.99" y="618" font-size="12.3" font-weight="bold" fill="#262626" stroke="#262626" stroke-width="0.26" textLength="10.96" lengthAdjust="spacingAndGlyphs">N</text>
<circle cx="167.6" cy="605.4" r="1.25" fill="none" stroke="#262626" stroke-width="0.9"/>
<text x="145.82" y="634.2" font-size="12.3" font-weight="bold" fill="#262626" stroke="#262626" stroke-width="0.26" textLength="17.91" lengthAdjust="spacingAndGlyphs">32</text>
<text x="174.99" y="634.2" font-size="12.3" font-weight="bold" fill="#262626" stroke="#262626" stroke-width="0.26" textLength="10.96" lengthAdjust="spacingAndGlyphs">N</text>
<circle cx="167.6" cy="621.6" r="1.25" fill="none" stroke="#262626" stroke-width="0.9"/>
<text x="145.82" y="649.1" font-size="12.3" font-weight="bold" fill="#262626" stroke="#262626" stroke-width="0.26" textLength="18.03" lengthAdjust="spacingAndGlyphs">30</text>
<text x="174.99" y="649.1" font-size="12.3" font-weight="bold" fill="#262626" stroke="#262626" stroke-width="0.26" textLength="10.96" lengthAdjust="spacingAndGlyphs">N</text>
<circle cx="167.6" cy="636.5" r="1.25" fill="none" stroke="#262626" stroke-width="0.9"/>
<text x="146.05" y="661.9" font-size="12.3" font-weight="bold" fill="#262626" stroke="#262626" stroke-width="0.26" textLength="17.45" lengthAdjust="spacingAndGlyphs">28</text>
<text x="174.99" y="661.9" font-size="12.3" font-weight="bold" fill="#262626" stroke="#262626" stroke-width="0.26" textLength="10.96" lengthAdjust="spacingAndGlyphs">N</text>
<circle cx="167.6" cy="649.3" r="1.25" fill="none" stroke="#262626" stroke-width="0.9"/>
<text x="146.05" y="676.3" font-size="12.3" font-weight="bold" fill="#262626" stroke="#262626" stroke-width="0.26" textLength="17.74" lengthAdjust="spacingAndGlyphs">26</text>
<text x="174.99" y="676.3" font-size="12.3" font-weight="bold" fill="#262626" stroke="#262626" stroke-width="0.26" textLength="10.96" lengthAdjust="spacingAndGlyphs">N</text>
<circle cx="167.6" cy="663.7" r="1.25" fill="none" stroke="#262626" stroke-width="0.9"/>
<text x="146.10" y="691" font-size="12.3" font-weight="bold" fill="#262626" stroke="#262626" stroke-width="0.26" textLength="16.97" lengthAdjust="spacingAndGlyphs">24</text>
<text x="174.99" y="691" font-size="12.3" font-weight="bold" fill="#262626" stroke="#262626" stroke-width="0.26" textLength="10.96" lengthAdjust="spacingAndGlyphs">N</text>
<circle cx="167.6" cy="678.4" r="1.25" fill="none" stroke="#262626" stroke-width="0.9"/>
<text x="146.05" y="704.1" font-size="12.3" font-weight="bold" fill="#262626" stroke="#262626" stroke-width="0.26" textLength="17.57" lengthAdjust="spacingAndGlyphs">22</text>
<text x="174.99" y="704.1" font-size="12.3" font-weight="bold" fill="#262626" stroke="#262626" stroke-width="0.26" textLength="10.96" lengthAdjust="spacingAndGlyphs">N</text>
<circle cx="167.6" cy="691.5" r="1.25" fill="none" stroke="#262626" stroke-width="0.9"/>
<use href="#lon" x="0" y="390"/>
<clipPath id="bx4"><rect x="194.6" y="485.7" width="235.7" height="214.4"/></clipPath>
<g transform="translate(195.1 486.4) scale(1.00000 1.00000) translate(-195.1 -96.4)"><clipPath id="c4"><path d="M193 127.5 L196 126.5 L201 128 L206 128.5 L214 130 L215 136 L219 137 L222 138.5 L223 150 L225 165 L225.5 180 L224.5 185 L221 187 L216 186.5 L212 187.5 L207 186.5 L203 188.5 L199 187.5 L196 187 L193 183 L192.5 165 L192.8 140Z"/></clipPath>
<g clip-path="url(#c4)"><g filter="url(#bl)">
<rect x="188" y="120" width="44" height="48.5" fill="#1496f2"/>
<ellipse cx="206" cy="153" rx="7" ry="8" fill="#0cd8fc"/>
<ellipse cx="203" cy="162" rx="8" ry="3" fill="#12b4f8"/>
<ellipse cx="209" cy="136" rx="3" ry="3" fill="#0a70ec"/>
<ellipse cx="196" cy="160" rx="2.5" ry="3" fill="#0a40dc"/>
<rect x="188" y="168.5" width="44" height="24" fill="#16d6f4"/>
<ellipse cx="208" cy="173" rx="9" ry="2.5" fill="#36ecc0"/>
<ellipse cx="214" cy="180" rx="8" ry="3" fill="#3aeeb8" transform="rotate(-15 214 180)"/>
<ellipse cx="203" cy="185" rx="6" ry="2.5" fill="#40eeb0"/>
</g></g></g>
<g clip-path="url(#bx4)"><use href="#map" transform="translate(195.1 486.4) scale(1.00000 1.00000) translate(-195.1 -96.4)"/></g>
<rect x="195.5" y="486.5" width="234" height="213" fill="none" stroke="#000" stroke-width="1"/>
<rect x="441" y="483" width="24" height="219.6" fill="url(#jet)"/>
<rect x="441.5" y="483.5" width="23" height="218.6" fill="none" stroke="#141008" stroke-opacity="0.88" stroke-width="1"/>
<path d="M461 523.7 h3.2" stroke="#1a0c04" stroke-opacity="0.85" stroke-width="1"/>
<text x="472.91" y="531.1" font-size="21.5" font-weight="bold" fill="#262626" stroke="#262626" stroke-width="0.45" textLength="13.59" lengthAdjust="spacingAndGlyphs">5</text>
<path d="M461 592.4 h3.2" stroke="#1a0c04" stroke-opacity="0.85" stroke-width="1"/>
<text x="472.98" y="599.8" font-size="21.5" font-weight="bold" fill="#262626" stroke="#262626" stroke-width="0.45" textLength="14.02" lengthAdjust="spacingAndGlyphs">0</text>
<path d="M461 661.2 h3.2" stroke="#1a0c04" stroke-opacity="0.85" stroke-width="1"/>
<text x="473.17" y="668.6" font-size="21.5" font-weight="bold" fill="#262626" stroke="#262626" stroke-width="0.45" textLength="22.55" lengthAdjust="spacingAndGlyphs">-5</text>
<text x="108.73" y="730.8" font-size="24" font-weight="bold" fill="#262626" stroke="#262626" stroke-width="0.5" textLength="48.51" lengthAdjust="spacingAndGlyphs">SAT</text>
<text x="158.72" y="730.8" font-size="24" font-weight="bold" fill="#262626" stroke="#262626" stroke-width="0.5" textLength="8.47" lengthAdjust="spacingAndGlyphs">-</text>
<text x="168.89" y="730.8" font-size="24" font-weight="bold" fill="#262626" stroke="#262626" stroke-width="0.5" textLength="50.62" lengthAdjust="spacingAndGlyphs">RAP</text>
<text x="228.35" y="730.8" font-size="24" font-weight="bold" fill="#262626" stroke="#262626" stroke-width="0.5" textLength="115.39" lengthAdjust="spacingAndGlyphs">Negative</text>
<text x="352.02" y="730.8" font-size="24" font-weight="bold" fill="#262626" stroke="#262626" stroke-width="0.5" textLength="75.19" lengthAdjust="spacingAndGlyphs">Lifted</text>
<text x="435.38" y="730.8" font-size="24" font-weight="bold" fill="#262626" stroke="#262626" stroke-width="0.5" textLength="71.22" lengthAdjust="spacingAndGlyphs">Index</text>
</g>
<g>
<text x="567.32" y="502.5" font-size="12.3" font-weight="bold" fill="#262626" stroke="#262626" stroke-width="0.26" textLength="17.37" lengthAdjust="spacingAndGlyphs">48</text>
<text x="595.99" y="502.5" font-size="12.3" font-weight="bold" fill="#262626" stroke="#262626" stroke-width="0.26" textLength="10.96" lengthAdjust="spacingAndGlyphs">N</text>
<circle cx="588.6" cy="489.9" r="1.25" fill="none" stroke="#262626" stroke-width="0.9"/>
<text x="567.48" y="520.1" font-size="12.3" font-weight="bold" fill="#262626" stroke="#262626" stroke-width="0.26" textLength="17.47" lengthAdjust="spacingAndGlyphs">46</text>
<text x="595.99" y="520.1" font-size="12.3" font-weight="bold" fill="#262626" stroke="#262626" stroke-width="0.26" textLength="10.96" lengthAdjust="spacingAndGlyphs">N</text>
<circle cx="588.6" cy="507.5" r="1.25" fill="none" stroke="#262626" stroke-width="0.9"/>
<text x="567.47" y="537.2" font-size="12.3" font-weight="bold" fill="#262626" stroke="#262626" stroke-width="0.26" textLength="16.77" lengthAdjust="spacingAndGlyphs">44</text>
<text x="595.99" y="537.2" font-size="12.3" font-weight="bold" fill="#262626" stroke="#262626" stroke-width="0.26" textLength="10.96" lengthAdjust="spacingAndGlyphs">N</text>
<circle cx="588.6" cy="524.6" r="1.25" fill="none" stroke="#262626" stroke-width="0.9"/>
<text x="567.47" y="556.4" font-size="12.3" font-weight="bold" fill="#262626" stroke="#262626" stroke-width="0.26" textLength="17.35" lengthAdjust="spacingAndGlyphs">42</text>
<text x="595.99" y="556.4" font-size="12.3" font-weight="bold" fill="#262626" stroke="#262626" stroke-width="0.26" textLength="10.96" lengthAdjust="spacingAndGlyphs">N</text>
<circle cx="588.6" cy="543.8" r="1.25" fill="none" stroke="#262626" stroke-width="0.9"/>
<text x="567.47" y="572.8" font-size="12.3" font-weight="bold" fill="#262626" stroke="#262626" stroke-width="0.26" textLength="17.54" lengthAdjust="spacingAndGlyphs">40</text>
<text x="595.99" y="572.8" font-size="12.3" font-weight="bold" fill="#262626" stroke="#262626" stroke-width="0.26" textLength="10.96" lengthAdjust="spacingAndGlyphs">N</text>
<circle cx="588.6" cy="560.2" r="1.25" fill="none" stroke="#262626" stroke-width="0.9"/>
<text x="566.86" y="587.2" font-size="12.3" font-weight="bold" fill="#262626" stroke="#262626" stroke-width="0.26" textLength="17.77" lengthAdjust="spacingAndGlyphs">38</text>
<text x="595.99" y="587.2" font-size="12.3" font-weight="bold" fill="#262626" stroke="#262626" stroke-width="0.26" textLength="10.96" lengthAdjust="spacingAndGlyphs">N</text>
<circle cx="588.6" cy="574.6" r="1.25" fill="none" stroke="#262626" stroke-width="0.9"/>
<text x="566.82" y="604" font-size="12.3" font-weight="bold" fill="#262626" stroke="#262626" stroke-width="0.26" textLength="17.94" lengthAdjust="spacingAndGlyphs">36</text>
<text x="595.99" y="604" font-size="12.3" font-weight="bold" fill="#262626" stroke="#262626" stroke-width="0.26" textLength="10.96" lengthAdjust="spacingAndGlyphs">N</text>
<circle cx="588.6" cy="591.4" r="1.25" fill="none" stroke="#262626" stroke-width="0.9"/>
<text x="566.90" y="618" font-size="12.3" font-weight="bold" fill="#262626" stroke="#262626" stroke-width="0.26" textLength="17.30" lengthAdjust="spacingAndGlyphs">34</text>
<text x="595.99" y="618" font-size="12.3" font-weight="bold" fill="#262626" stroke="#262626" stroke-width="0.26" textLength="10.96" lengthAdjust="spacingAndGlyphs">N</text>
<circle cx="588.6" cy="605.4" r="1.25" fill="none" stroke="#262626" stroke-width="0.9"/>
<text x="566.82" y="634.2" font-size="12.3" font-weight="bold" fill="#262626" stroke="#262626" stroke-width="0.26" textLength="17.91" lengthAdjust="spacingAndGlyphs">32</text>
<text x="595.99" y="634.2" font-size="12.3" font-weight="bold" fill="#262626" stroke="#262626" stroke-width="0.26" textLength="10.96" lengthAdjust="spacingAndGlyphs">N</text>
<circle cx="588.6" cy="621.6" r="1.25" fill="none" stroke="#262626" stroke-width="0.9"/>
<text x="566.82" y="649.1" font-size="12.3" font-weight="bold" fill="#262626" stroke="#262626" stroke-width="0.26" textLength="18.03" lengthAdjust="spacingAndGlyphs">30</text>
<text x="595.99" y="649.1" font-size="12.3" font-weight="bold" fill="#262626" stroke="#262626" stroke-width="0.26" textLength="10.96" lengthAdjust="spacingAndGlyphs">N</text>
<circle cx="588.6" cy="636.5" r="1.25" fill="none" stroke="#262626" stroke-width="0.9"/>
<text x="567.05" y="661.9" font-size="12.3" font-weight="bold" fill="#262626" stroke="#262626" stroke-width="0.26" textLength="17.45" lengthAdjust="spacingAndGlyphs">28</text>
<text x="595.99" y="661.9" font-size="12.3" font-weight="bold" fill="#262626" stroke="#262626" stroke-width="0.26" textLength="10.96" lengthAdjust="spacingAndGlyphs">N</text>
<circle cx="588.6" cy="649.3" r="1.25" fill="none" stroke="#262626" stroke-width="0.9"/>
<text x="567.05" y="676.3" font-size="12.3" font-weight="bold" fill="#262626" stroke="#262626" stroke-width="0.26" textLength="17.74" lengthAdjust="spacingAndGlyphs">26</text>
<text x="595.99" y="676.3" font-size="12.3" font-weight="bold" fill="#262626" stroke="#262626" stroke-width="0.26" textLength="10.96" lengthAdjust="spacingAndGlyphs">N</text>
<circle cx="588.6" cy="663.7" r="1.25" fill="none" stroke="#262626" stroke-width="0.9"/>
<text x="567.10" y="691" font-size="12.3" font-weight="bold" fill="#262626" stroke="#262626" stroke-width="0.26" textLength="16.97" lengthAdjust="spacingAndGlyphs">24</text>
<text x="595.99" y="691" font-size="12.3" font-weight="bold" fill="#262626" stroke="#262626" stroke-width="0.26" textLength="10.96" lengthAdjust="spacingAndGlyphs">N</text>
<circle cx="588.6" cy="678.4" r="1.25" fill="none" stroke="#262626" stroke-width="0.9"/>
<text x="567.05" y="704.1" font-size="12.3" font-weight="bold" fill="#262626" stroke="#262626" stroke-width="0.26" textLength="17.57" lengthAdjust="spacingAndGlyphs">22</text>
<text x="595.99" y="704.1" font-size="12.3" font-weight="bold" fill="#262626" stroke="#262626" stroke-width="0.26" textLength="10.96" lengthAdjust="spacingAndGlyphs">N</text>
<circle cx="588.6" cy="691.5" r="1.25" fill="none" stroke="#262626" stroke-width="0.9"/>
<use href="#lon" x="421" y="390"/>
<clipPath id="bx5"><rect x="615.7" y="485.7" width="235.6" height="214.4"/></clipPath>
<g transform="translate(616.2 486.4) scale(0.99957 1.00000) translate(-195.1 -96.4)"><path d="M193 127.5 L196 126.5 L201 128 L206 128.5 L214 130 L215 136 L219 137 L222 138.5 L223 150 L225 165 L225.5 180 L224.5 185 L221 187 L216 186.5 L212 187.5 L207 186.5 L203 188.5 L199 187.5 L196 187 L193 183 L192.5 165 L192.8 140Z" fill="#7ff77f" stroke="#7ff77f" stroke-width="1" stroke-linejoin="round"/></g>
<g clip-path="url(#bx5)"><use href="#map" transform="translate(616.2 486.4) scale(0.99957 1.00000) translate(-195.1 -96.4)"/></g>
<rect x="616.5" y="486.5" width="234" height="213" fill="none" stroke="#000" stroke-width="1"/>
<rect x="862" y="483" width="24" height="219.6" fill="url(#jet)"/>
<rect x="862.5" y="483.5" width="23" height="218.6" fill="none" stroke="#141008" stroke-opacity="0.88" stroke-width="1"/>
<path d="M882 502.3 h3.2" stroke="#1a0c04" stroke-opacity="0.85" stroke-width="1"/>
<text x="894.54" y="509.7" font-size="21.5" font-weight="bold" fill="#262626" stroke="#262626" stroke-width="0.45" textLength="42.58" lengthAdjust="spacingAndGlyphs">400</text>
<path d="M882 547.5 h3.2" stroke="#1a0c04" stroke-opacity="0.85" stroke-width="1"/>
<text x="894.36" y="554.9" font-size="21.5" font-weight="bold" fill="#262626" stroke="#262626" stroke-width="0.45" textLength="42.50" lengthAdjust="spacingAndGlyphs">200</text>
<path d="M882 592.3 h3.2" stroke="#1a0c04" stroke-opacity="0.85" stroke-width="1"/>
<text x="894.17" y="599.7" font-size="21.5" font-weight="bold" fill="#262626" stroke="#262626" stroke-width="0.45" textLength="14.23" lengthAdjust="spacingAndGlyphs">0</text>
<path d="M882 637.7 h3.2" stroke="#1a0c04" stroke-opacity="0.85" stroke-width="1"/>
<text x="894.12" y="645.1" font-size="21.5" font-weight="bold" fill="#262626" stroke="#262626" stroke-width="0.45" textLength="52.07" lengthAdjust="spacingAndGlyphs">-200</text>
<path d="M882 682.5 h3.2" stroke="#1a0c04" stroke-opacity="0.85" stroke-width="1"/>
<text x="894.12" y="689.9" font-size="21.5" font-weight="bold" fill="#262626" stroke="#262626" stroke-width="0.45" textLength="52.07" lengthAdjust="spacingAndGlyphs">-400</text>
<text x="635.62" y="730.8" font-size="24" font-weight="bold" fill="#262626" stroke="#262626" stroke-width="0.5" textLength="48.48" lengthAdjust="spacingAndGlyphs">SAT</text>
<text x="685.84" y="730.8" font-size="24" font-weight="bold" fill="#262626" stroke="#262626" stroke-width="0.5" textLength="8.31" lengthAdjust="spacingAndGlyphs">-</text>
<text x="695.61" y="730.8" font-size="24" font-weight="bold" fill="#262626" stroke="#262626" stroke-width="0.5" textLength="51.01" lengthAdjust="spacingAndGlyphs">RAP</text>
<text x="755.09" y="730.8" font-size="24" font-weight="bold" fill="#262626" stroke="#262626" stroke-width="0.5" textLength="66.02" lengthAdjust="spacingAndGlyphs">CAPE</text>
</g>
<g>
<text x="988.32" y="502.5" font-size="12.3" font-weight="bold" fill="#262626" stroke="#262626" stroke-width="0.26" textLength="17.37" lengthAdjust="spacingAndGlyphs">48</text>
<text x="1016.99" y="502.5" font-size="12.3" font-weight="bold" fill="#262626" stroke="#262626" stroke-width="0.26" textLength="10.96" lengthAdjust="spacingAndGlyphs">N</text>
<circle cx="1009.6" cy="489.9" r="1.25" fill="none" stroke="#262626" stroke-width="0.9"/>
<text x="988.48" y="520.1" font-size="12.3" font-weight="bold" fill="#262626" stroke="#262626" stroke-width="0.26" textLength="17.47" lengthAdjust="spacingAndGlyphs">46</text>
<text x="1016.99" y="520.1" font-size="12.3" font-weight="bold" fill="#262626" stroke="#262626" stroke-width="0.26" textLength="10.96" lengthAdjust="spacingAndGlyphs">N</text>
<circle cx="1009.6" cy="507.5" r="1.25" fill="none" stroke="#262626" stroke-width="0.9"/>
<text x="988.47" y="537.2" font-size="12.3" font-weight="bold" fill="#262626" stroke="#262626" stroke-width="0.26" textLength="16.77" lengthAdjust="spacingAndGlyphs">44</text>
<text x="1016.99" y="537.2" font-size="12.3" font-weight="bold" fill="#262626" stroke="#262626" stroke-width="0.26" textLength="10.96" lengthAdjust="spacingAndGlyphs">N</text>
<circle cx="1009.6" cy="524.6" r="1.25" fill="none" stroke="#262626" stroke-width="0.9"/>
<text x="988.47" y="556.4" font-size="12.3" font-weight="bold" fill="#262626" stroke="#262626" stroke-width="0.26" textLength="17.35" lengthAdjust="spacingAndGlyphs">42</text>
<text x="1016.99" y="556.4" font-size="12.3" font-weight="bold" fill="#262626" stroke="#262626" stroke-width="0.26" textLength="10.96" lengthAdjust="spacingAndGlyphs">N</text>
<circle cx="1009.6" cy="543.8" r="1.25" fill="none" stroke="#262626" stroke-width="0.9"/>
<text x="988.47" y="572.8" font-size="12.3" font-weight="bold" fill="#262626" stroke="#262626" stroke-width="0.26" textLength="17.54" lengthAdjust="spacingAndGlyphs">40</text>
<text x="1016.99" y="572.8" font-size="12.3" font-weight="bold" fill="#262626" stroke="#262626" stroke-width="0.26" textLength="10.96" lengthAdjust="spacingAndGlyphs">N</text>
<circle cx="1009.6" cy="560.2" r="1.25" fill="none" stroke="#262626" stroke-width="0.9"/>
<text x="987.86" y="587.2" font-size="12.3" font-weight="bold" fill="#262626" stroke="#262626" stroke-width="0.26" textLength="17.77" lengthAdjust="spacingAndGlyphs">38</text>
<text x="1016.99" y="587.2" font-size="12.3" font-weight="bold" fill="#262626" stroke="#262626" stroke-width="0.26" textLength="10.96" lengthAdjust="spacingAndGlyphs">N</text>
<circle cx="1009.6" cy="574.6" r="1.25" fill="none" stroke="#262626" stroke-width="0.9"/>
<text x="987.82" y="604" font-size="12.3" font-weight="bold" fill="#262626" stroke="#262626" stroke-width="0.26" textLength="17.94" lengthAdjust="spacingAndGlyphs">36</text>
<text x="1016.99" y="604" font-size="12.3" font-weight="bold" fill="#262626" stroke="#262626" stroke-width="0.26" textLength="10.96" lengthAdjust="spacingAndGlyphs">N</text>
<circle cx="1009.6" cy="591.4" r="1.25" fill="none" stroke="#262626" stroke-width="0.9"/>
<text x="987.90" y="618" font-size="12.3" font-weight="bold" fill="#262626" stroke="#262626" stroke-width="0.26" textLength="17.30" lengthAdjust="spacingAndGlyphs">34</text>
<text x="1016.99" y="618" font-size="12.3" font-weight="bold" fill="#262626" stroke="#262626" stroke-width="0.26" textLength="10.96" lengthAdjust="spacingAndGlyphs">N</text>
<circle cx="1009.6" cy="605.4" r="1.25" fill="none" stroke="#262626" stroke-width="0.9"/>
<text x="987.82" y="634.2" font-size="12.3" font-weight="bold" fill="#262626" stroke="#262626" stroke-width="0.26" textLength="17.91" lengthAdjust="spacingAndGlyphs">32</text>
<text x="1016.99" y="634.2" font-size="12.3" font-weight="bold" fill="#262626" stroke="#262626" stroke-width="0.26" textLength="10.96" lengthAdjust="spacingAndGlyphs">N</text>
<circle cx="1009.6" cy="621.6" r="1.25" fill="none" stroke="#262626" stroke-width="0.9"/>
<text x="987.82" y="649.1" font-size="12.3" font-weight="bold" fill="#262626" stroke="#262626" stroke-width="0.26" textLength="18.03" lengthAdjust="spacingAndGlyphs">30</text>
<text x="1016.99" y="649.1" font-size="12.3" font-weight="bold" fill="#262626" stroke="#262626" stroke-width="0.26" textLength="10.96" lengthAdjust="spacingAndGlyphs">N</text>
<circle cx="1009.6" cy="636.5" r="1.25" fill="none" stroke="#262626" stroke-width="0.9"/>
<text x="988.05" y="664.6" font-size="12.3" font-weight="bold" fill="#262626" stroke="#262626" stroke-width="0.26" textLength="17.45" lengthAdjust="spacingAndGlyphs">28</text>
<text x="1016.99" y="664.6" font-size="12.3" font-weight="bold" fill="#262626" stroke="#262626" stroke-width="0.26" textLength="10.96" lengthAdjust="spacingAndGlyphs">N</text>
<circle cx="1009.6" cy="652" r="1.25" fill="none" stroke="#262626" stroke-width="0.9"/>
<text x="988.05" y="678" font-size="12.3" font-weight="bold" fill="#262626" stroke="#262626" stroke-width="0.26" textLength="17.74" lengthAdjust="spacingAndGlyphs">26</text>
<text x="1016.99" y="678" font-size="12.3" font-weight="bold" fill="#262626" stroke="#262626" stroke-width="0.26" textLength="10.96" lengthAdjust="spacingAndGlyphs">N</text>
<circle cx="1009.6" cy="665.4" r="1.25" fill="none" stroke="#262626" stroke-width="0.9"/>
<text x="988.10" y="691" font-size="12.3" font-weight="bold" fill="#262626" stroke="#262626" stroke-width="0.26" textLength="16.97" lengthAdjust="spacingAndGlyphs">24</text>
<text x="1016.99" y="691" font-size="12.3" font-weight="bold" fill="#262626" stroke="#262626" stroke-width="0.26" textLength="10.96" lengthAdjust="spacingAndGlyphs">N</text>
<circle cx="1009.6" cy="678.4" r="1.25" fill="none" stroke="#262626" stroke-width="0.9"/>
<text x="988.05" y="705.5" font-size="12.3" font-weight="bold" fill="#262626" stroke="#262626" stroke-width="0.26" textLength="17.57" lengthAdjust="spacingAndGlyphs">22</text>
<text x="1016.99" y="705.5" font-size="12.3" font-weight="bold" fill="#262626" stroke="#262626" stroke-width="0.26" textLength="10.96" lengthAdjust="spacingAndGlyphs">N</text>
<circle cx="1009.6" cy="692.9" r="1.25" fill="none" stroke="#262626" stroke-width="0.9"/>
<use href="#lon" x="843.8" y="387.9"/>
<clipPath id="bx6"><rect x="1036.6" y="484.7" width="236.5" height="216.5"/></clipPath>
<g transform="translate(1037.1 485.4) scale(1.00341 1.00986) translate(-195.1 -96.4)"><clipPath id="c6"><path d="M193 127.5 L196 126.5 L201 128 L206 128.5 L214 130 L215 136 L219 137 L222 138.5 L223 150 L225 165 L225.5 180 L224.5 185 L221 187 L216 186.5 L212 187.5 L207 186.5 L203 188.5 L199 187.5 L196 187 L193 183 L192.5 165 L192.8 140Z"/></clipPath>
<g clip-path="url(#c6)"><g filter="url(#bl)">
<rect x="188" y="120" width="44" height="13.5" fill="#b4f040"/>
<rect x="188" y="133.5" width="27" height="35" fill="#7cf09a"/>
<rect x="188" y="133.5" width="9" height="60" fill="#22c0f4"/>
<ellipse cx="203" cy="138" rx="5" ry="3.5" fill="#c8f238"/>
<ellipse cx="212" cy="148" rx="2.6" ry="14" fill="#f4e41c"/>
<ellipse cx="203" cy="158" rx="6" ry="8" fill="#20c8f4"/>
<ellipse cx="203" cy="148" rx="2.5" ry="2.5" fill="#1272e4"/>
<ellipse cx="207" cy="161" rx="3" ry="5" fill="#70f0a0"/>
<rect x="215" y="134" width="12" height="13.5" fill="#ffa408"/>
<ellipse cx="220" cy="146" rx="3" ry="2" fill="#e8640a"/>
<rect x="215" y="149" width="12" height="20" fill="#b0f048"/>
<rect x="197" y="168.5" width="35" height="24" fill="#78f290"/>
<rect x="205" y="168.5" width="8" height="24" fill="#b8f040"/>
<ellipse cx="200" cy="173" rx="5" ry="5" fill="#1080f0"/>
<ellipse cx="200" cy="183" rx="5" ry="5" fill="#20e0f4"/>
<ellipse cx="209" cy="172" rx="2.5" ry="1.5" fill="#ff9010"/>
<ellipse cx="209" cy="181" rx="2.5" ry="1.2" fill="#ff7808"/>
</g></g></g>
<g clip-path="url(#bx6)"><use href="#map" transform="translate(1037.1 485.4) scale(1.00341 1.00986) translate(-195.1 -96.4)"/></g>
<rect x="1037.5" y="485.5" width="235" height="215" fill="none" stroke="#000" stroke-width="1"/>
<rect x="1285" y="483" width="24" height="219.6" fill="url(#jet)"/>
<rect x="1285.5" y="483.5" width="23" height="218.6" fill="none" stroke="#141008" stroke-opacity="0.88" stroke-width="1"/>
<path d="M1305 512.2 h3.2" stroke="#1a0c04" stroke-opacity="0.85" stroke-width="1"/>
<text x="1318.02" y="519.6" font-size="21.5" font-weight="bold" fill="#262626" stroke="#262626" stroke-width="0.45" textLength="42.19" lengthAdjust="spacingAndGlyphs">290</text>
<path d="M1305 565.5 h3.2" stroke="#1a0c04" stroke-opacity="0.85" stroke-width="1"/>
<text x="1318.02" y="572.9" font-size="21.5" font-weight="bold" fill="#262626" stroke="#262626" stroke-width="0.45" textLength="42.19" lengthAdjust="spacingAndGlyphs">280</text>
<path d="M1305 619 h3.2" stroke="#1a0c04" stroke-opacity="0.85" stroke-width="1"/>
<text x="1318.02" y="626.4" font-size="21.5" font-weight="bold" fill="#262626" stroke="#262626" stroke-width="0.45" textLength="42.19" lengthAdjust="spacingAndGlyphs">270</text>
<path d="M1305 672.5 h3.2" stroke="#1a0c04" stroke-opacity="0.85" stroke-width="1"/>
<text x="1318.02" y="679.9" font-size="21.5" font-weight="bold" fill="#262626" stroke="#262626" stroke-width="0.45" textLength="42.19" lengthAdjust="spacingAndGlyphs">260</text>
<text x="958.69" y="731.7" font-size="24" font-weight="bold" fill="#262626" stroke="#262626" stroke-width="0.5" textLength="97.48" lengthAdjust="spacingAndGlyphs">Surface</text>
<text x="1065.99" y="731.7" font-size="24" font-weight="bold" fill="#262626" stroke="#262626" stroke-width="0.5" textLength="55.14" lengthAdjust="spacingAndGlyphs">Skin</text>
<text x="1129.23" y="731.7" font-size="24" font-weight="bold" fill="#262626" stroke="#262626" stroke-width="0.5" textLength="166.94" lengthAdjust="spacingAndGlyphs">Temperature</text>
<text x="1305.95" y="731.7" font-size="24" font-weight="bold" fill="#262626" stroke="#262626" stroke-width="0.5" textLength="37.16" lengthAdjust="spacingAndGlyphs">(K)</text>
</g>
</svg></body></html>
